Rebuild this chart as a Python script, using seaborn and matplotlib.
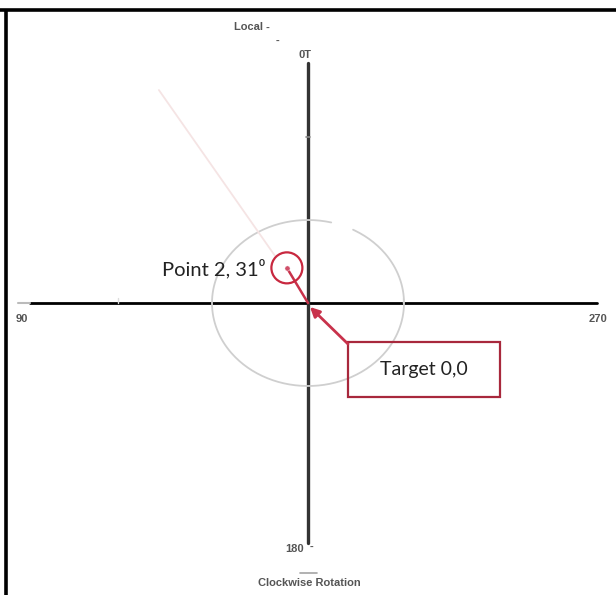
import numpy as np
import pandas as pd
import matplotlib.pyplot as plt
import seaborn as sns

# compass labels around the plot
label_top = "0T"
label_left = "90"
label_bottom = "180"
label_right = "270"
label_local = "Local -"
label_rotation = "Clockwise Rotation"

# target and measured point (angle from 0T, counter-clockwise towards 90)
target_name = "Target 0,0"
point_name = "Point 2, 31\u2070"
point_angle = 31
point_dist = 41

# gray reference ring (horizontal / vertical radius) and its open gap in degrees
ring_radius = [96, 83]
ring_arc = [76, 422]

# faint guide line through the point
guide_dist = [58, 260]

sns.set_theme(style="white")
plt.rcParams['font.family'] = ['Liberation Sans', 'DejaVu Sans']

fig = plt.figure(figsize=(6.16, 5.95), dpi=100)
ax = fig.add_axes([0, 0, 1, 1])
ax.set_xlim(-308, 308)
ax.set_ylim(-292, 303)
ax.axis('off')

# frame lines on top and left
ax.plot([-308, 308], [293, 293], color='black', lw=2.6, solid_capstyle='butt')
ax.plot([-302, -302], [293, -292], color='black', lw=2.6, solid_capstyle='butt')

# main cross axes
sns.lineplot(x=[-278, 289], y=[0, 0], color='black', lw=2.0, ax=ax,
             sort=False, estimator=None)
ax.plot([-290, -278], [0, 0], color='#bbbbbb', lw=1.5)
sns.lineplot(x=[0, 0], y=[240, -240], color='#333333', lw=2.4, ax=ax,
             sort=False, estimator=None)

# faint ticks on axes
for tx in [-190, 95]:
    ax.plot([tx, tx], [0, 5], color='#dddddd', lw=1)
ax.plot([-2, 2], [166, 166], color='#888888', lw=1.2)

# ring
theta = np.radians(np.linspace(ring_arc[0], ring_arc[1], 300))
ring = pd.DataFrame({'x': ring_radius[0] * np.cos(theta),
                     'y': ring_radius[1] * np.sin(theta)})
sns.lineplot(data=ring, x='x', y='y', sort=False, estimator=None,
             color='#cfcfcf', lw=1.3, ax=ax)

# faint guide line
ang = np.radians(point_angle + 4)
gx = [-d * np.sin(ang) for d in guide_dist]
gy = [d * np.cos(ang) for d in guide_dist]
ax.plot(gx, gy, color='#f5e4e4', lw=1.3)

# point 2
px = -point_dist * np.sin(np.radians(point_angle))
py = point_dist * np.cos(np.radians(point_angle))
pts = pd.DataFrame({'x': [px], 'y': [py]})
sns.scatterplot(data=pts, x='x', y='y', color='#d0506a', s=14, ax=ax, zorder=5, legend=False)
ax.add_patch(plt.Circle((px, py), 15.5, fill=False, ec='#c8283f', lw=1.6, zorder=5))
ax.plot([px, 0], [py, 0], color='#c8324b', lw=1.8, zorder=4)
ax.text(px - 22, py - 1, point_name, ha='right', va='center', fontsize=14.5,
        color='#222222', family=['Lato', 'DejaVu Sans'])

# target callout box with arrow
ax.annotate('', xy=(2, -4), xytext=(40, -41),
            arrowprops=dict(arrowstyle='-|>', color='#c8324b', lw=2.0,
                            mutation_scale=14, shrinkA=0, shrinkB=0), zorder=6)
ax.add_patch(plt.Rectangle((40, -94), 152, 55, fill=False, ec='#a8283c', lw=1.6, zorder=5))
ax.text(116, -66, target_name, ha='center', va='center', fontsize=14,
        color='#222222', family=['Lato', 'DejaVu Sans'])

# compass text
small = dict(fontsize=8, fontweight='bold', color='#555555')
ax.text(-3, 248, label_top, ha='center', va='center', **small)
ax.text(-56, 276, label_local, ha='center', va='center', **small)
ax.text(-31, 262, '-', ha='center', va='center', **small)
ax.text(-286, -16, label_left, ha='center', va='center', **small)
ax.text(290, -16, label_right, ha='center', va='center', **small)
ax.text(-13, -246, label_bottom, ha='center', va='center', **small)
ax.text(4, -244, '-', ha='center', va='center', **small)
ax.text(1, -280, label_rotation, ha='center', va='center', **small)
ax.annotate('', xy=(-11, -270), xytext=(12, -270),
            arrowprops=dict(arrowstyle='-', color='#777777', lw=0.8))

fig.savefig('out.png', dpi=100, facecolor='white')
